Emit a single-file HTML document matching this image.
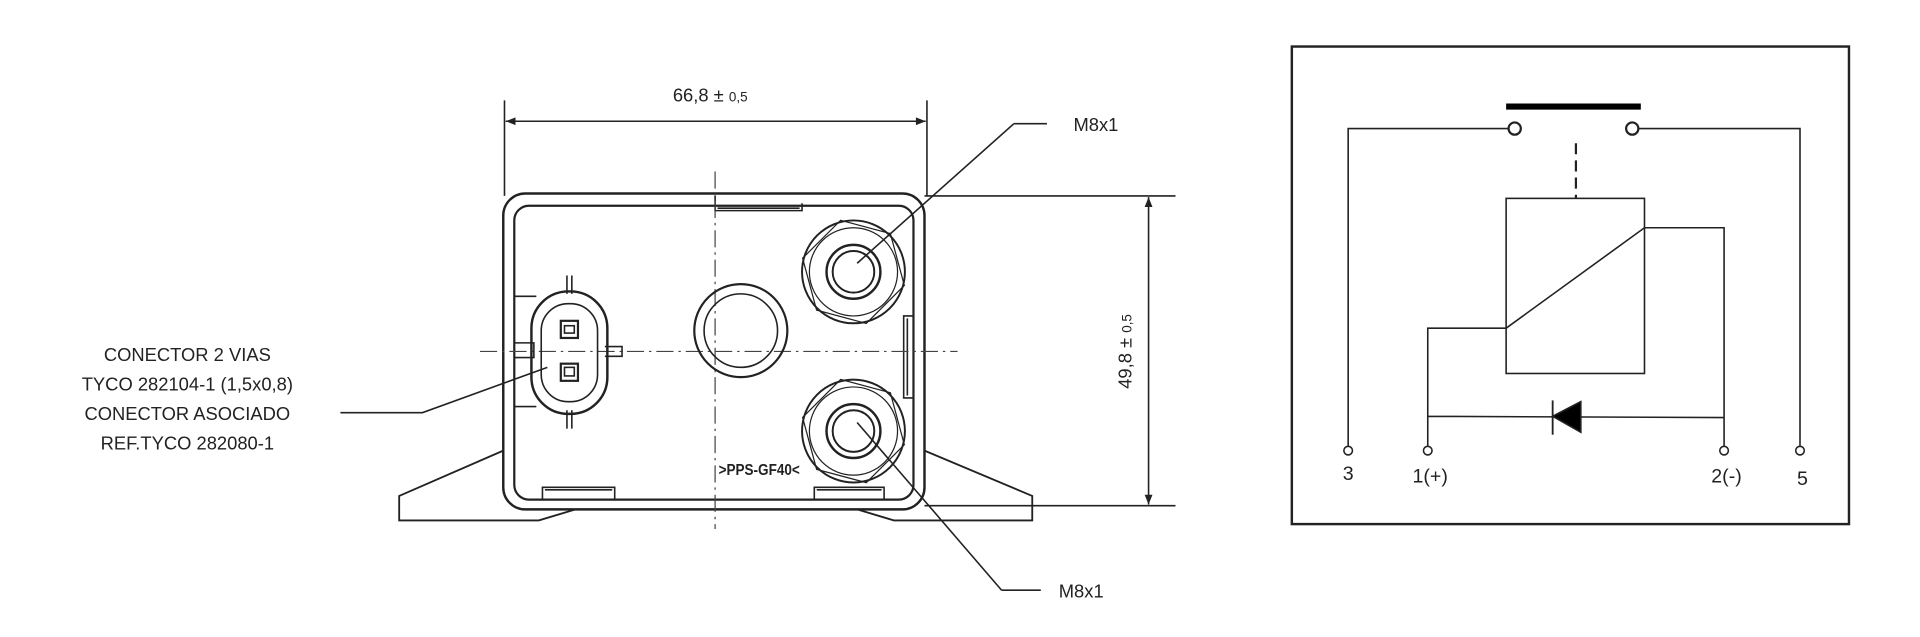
<!DOCTYPE html>
<html><head><meta charset="utf-8"><style>html,body{margin:0;padding:0;background:#fff}svg{display:block}</style></head>
<body>
<svg width="1920" height="637" viewBox="0 0 1568 520.2" xmlns="http://www.w3.org/2000/svg" font-family="Liberation Sans, sans-serif" fill="none" stroke="#222" stroke-width="1.3">
<defs>
<marker id="a" viewBox="0 0 10 10" refX="10" refY="5" markerWidth="12" markerHeight="8" orient="auto-start-reverse" markerUnits="userSpaceOnUse"><path d="M0,1 L10,5 L0,9z" fill="#222" stroke="none"/></marker>
</defs>
<!-- left labels -->
<g fill="#222" stroke="none" font-size="15" text-anchor="middle">
<text x="153" y="295">CONECTOR 2 VIAS</text>
<text x="153" y="319">TYCO 282104-1 (1,5x0,8)</text>
<text x="153" y="343">CONECTOR ASOCIADO</text>
<text x="153" y="367">REF.TYCO 282080-1</text>
<text x="580" y="83">66,8 ± <tspan font-size="11">0,5</tspan></text>
<text x="895" y="107">M8x1</text>
<text x="883" y="488">M8x1</text>
<text x="620" y="388" font-size="13" font-weight="bold" transform="translate(620 383) scale(0.85 1) translate(-620 -383)">&gt;PPS-GF40&lt;</text>
<text transform="translate(924 287) rotate(-90)" font-size="15">49,8 ± <tspan font-size="11">0,5</tspan></text>
</g>
<path d="M278,337 H345 L447,300"/>
<!-- dimensions -->
<path d="M412,82 V160 M757,82 V160"/>
<path d="M413,99 H756" marker-start="url(#a)" marker-end="url(#a)"/>
<path d="M755,160 H960 M755,413 H960"/>
<path d="M938,161 V412" marker-start="url(#a)" marker-end="url(#a)"/>
<!-- feet -->
<path d="M411,368 L326,405 V425 H440 L470,416 M755,368 L843,405 V425 H730 L700,416" stroke-width="1.5"/>
<!-- body -->
<rect x="411" y="158" width="344" height="258" rx="18" stroke-width="2"/>
<rect x="420" y="168" width="326" height="240" rx="12" stroke-width="1.8"/>
<path d="M584,160 V172 H655 V166 M586,170 H653"/>
<path d="M443,408 V398 H502 V408 M445,400 H500 M665,408 V398 H722 V408 M667,400 H720"/>
<path d="M746,258 H738 V325 H746 M741,260 V323"/>
<!-- centerlines -->
<path d="M584,140 V432 M392,287 H782" stroke-dasharray="14,4,2,4" stroke="#444" stroke-width="1"/>
<!-- center circle -->
<circle cx="605" cy="270" r="38" stroke-width="1.8"/><circle cx="605" cy="270" r="30"/>
<!-- nuts -->
<g stroke-width="1.6">
<circle cx="697" cy="222" r="42"/><polygon points="740,222 718,260 676,260 654,222 676,184 718,184" transform="rotate(15 697 222)" stroke-width="1"/><circle cx="697" cy="222" r="36" stroke-width="1"/><circle cx="697" cy="222" r="22" stroke-width="2"/><circle cx="697" cy="222" r="17"/>
<circle cx="697" cy="352" r="42"/><polygon points="740,352 718,390 676,390 654,352 676,314 718,314" transform="rotate(15 697 352)" stroke-width="1"/><circle cx="697" cy="352" r="36" stroke-width="1"/><circle cx="697" cy="352" r="22" stroke-width="2"/><circle cx="697" cy="352" r="17"/>
</g>
<path d="M828,101 H855 M828,101 L700,215 M818,482 H850 M818,482 L700,345"/>
<!-- connector -->
<path d="M463,225 V240 M467,225 V240 M463,335 V350 M467,335 V350 M494,283 H508 V291 H494 M420,242 H438 M420,332 H438 M420,280 H436 V292 H420"/>
<rect x="434" y="238" width="62" height="100" rx="30" stroke-width="2"/>
<rect x="442" y="248" width="46" height="80" rx="22"/>
<rect x="458" y="262" width="14" height="14" stroke-width="1.8"/><rect x="461" y="266" width="8" height="6"/>
<rect x="458" y="297" width="14" height="14" stroke-width="1.8"/><rect x="461" y="300" width="8" height="7"/>
<!-- schematic -->
<rect x="1055" y="38" width="455" height="390" stroke-width="2"/>
<path d="M1230,87 H1340" stroke-width="5" stroke="#000"/>
<circle cx="1237" cy="105" r="5" stroke-width="1.8"/><circle cx="1333" cy="105" r="5" stroke-width="1.8"/>
<path d="M1232,105 H1101 V364 M1338,105 H1470 V364"/>
<path d="M1287,117 V162" stroke-dasharray="9,5" stroke-width="1.8"/>
<rect x="1230" y="162" width="113" height="143"/>
<path d="M1230,268 L1343,186 H1408 V364 M1230,268 H1166 V364 M1166,340 L1408,341"/>
<path d="M1291,328 L1268,340 L1291,353 Z" fill="#000"/><path d="M1268,327 V355" stroke-width="1.5"/>
<circle cx="1101" cy="368" r="3.5"/><circle cx="1166" cy="368" r="3.5"/><circle cx="1408" cy="368" r="3.5"/><circle cx="1470" cy="368" r="3.5"/>
<g fill="#222" stroke="none" font-size="16" text-anchor="middle">
<text x="1101" y="392">3</text><text x="1168" y="394">1(+)</text><text x="1410" y="394">2(-)</text><text x="1472" y="396">5</text>
</g>
</svg>
</body></html>
